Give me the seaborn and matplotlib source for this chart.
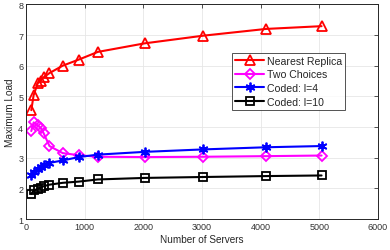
import numpy as np
import pandas as pd
import matplotlib
matplotlib.use("Agg")
import matplotlib.pyplot as plt
import seaborn as sns

servers = [90, 130, 200, 250, 300, 400, 625, 900, 1225, 2025, 3025, 4096, 5041]
nearest_replica = [4.55, 5.04, 5.43, 5.51, 5.62, 5.76, 6.00, 6.20, 6.45, 6.73, 6.98, 7.20, 7.29]
two_choices = [3.87, 4.15, 4.05, 3.97, 3.80, 3.38, 3.15, 3.08, 3.03, 3.02, 3.03, 3.05, 3.07]
coded_l4 = [2.44, 2.53, 2.64, 2.69, 2.75, 2.83, 2.91, 3.02, 3.10, 3.19, 3.27, 3.34, 3.38]
coded_l10 = [1.82, 1.93, 1.98, 2.02, 2.07, 2.12, 2.18, 2.22, 2.29, 2.34, 2.37, 2.40, 2.42]

labels = ["Nearest Replica", "Two Choices", "Coded: l=4", "Coded: l=10"]
series = [nearest_replica, two_choices, coded_l4, coded_l10]
colors = ["#ff0000", "#ff00ff", "#0000ff", "#000000"]
markers = ["^", "D", (6, 2, 0), "s"]
msizes = [7, 5.5, 7, 5.5]

sns.set_theme(style="whitegrid")
plt.rcParams["font.family"] = ["Liberation Sans", "DejaVu Sans"]

fig = plt.figure(figsize=(3.9, 2.51), dpi=100)
ax = fig.add_axes([0.0667, 0.1235, 0.902, 0.855])

for lab, vals, c, m, ms in zip(labels, series, colors, markers, msizes):
    df = pd.DataFrame({"servers": servers, "load": vals})
    sns.lineplot(data=df, x="servers", y="load", ax=ax, color=c, label=lab,
                 marker=m, markersize=ms, markerfacecolor="none",
                 markeredgecolor=c, markeredgewidth=1.3, linewidth=1.5)

ax.set_xlim(0, 6000)
ax.set_ylim(1, 8)
ax.set_xticks(np.arange(0, 6001, 1000))
ax.set_yticks(np.arange(1, 9, 1))
ax.set_xlabel("Number of Servers", fontsize=7.2, color="#262626", labelpad=2)
ax.set_ylabel("Maximum Load", fontsize=7.2, color="#262626", labelpad=2)
ax.tick_params(axis="both", labelsize=6.5, colors="#333333", direction="in",
               length=3, width=0.6, pad=2, top=True, right=True)
ax.grid(True, color="#e6e6e6", linewidth=0.6)
for sp in ax.spines.values():
    sp.set_color("#262626")
    sp.set_linewidth(0.7)

leg = ax.legend(loc="upper right", bbox_to_anchor=(0.923, 0.80), fontsize=7.6,
                frameon=True, fancybox=False, edgecolor="#262626",
                handlelength=2.7, labelspacing=0.35, borderpad=0.3,
                handletextpad=0.3)
leg.get_frame().set_linewidth(0.7)

fig.savefig("out.png", dpi=100)
